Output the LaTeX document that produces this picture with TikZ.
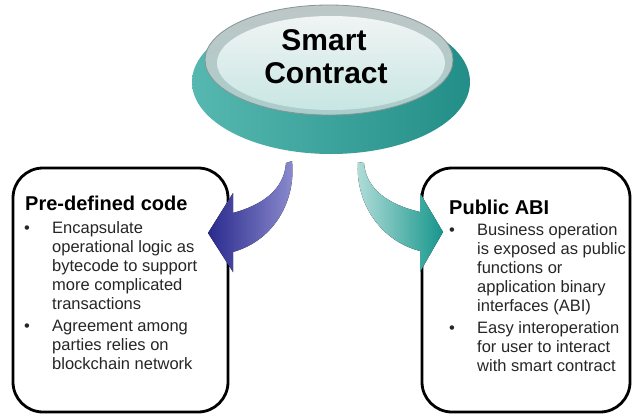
\documentclass[tikz,border=0pt]{standalone}
\usepackage{fontspec}
\setmainfont{Liberation Sans}
\usetikzlibrary{shapes.geometric}
\definecolor{txtgray}{RGB}{38,38,38}
\definecolor{tealL}{RGB}{86,184,176}
\definecolor{tealR}{RGB}{34,142,135}
\definecolor{rimT}{RGB}{190,198,198}
\definecolor{rimB}{RGB}{170,206,204}
\definecolor{rimD}{RGB}{135,148,148}
\definecolor{discT}{RGB}{240,244,244}
\definecolor{discB}{RGB}{200,230,227}
\definecolor{blueD}{RGB}{42,42,142}
\definecolor{blueL}{RGB}{142,142,208}
\definecolor{cyanL}{RGB}{180,222,218}
\definecolor{cyanD}{RGB}{22,150,140}
\begin{document}
\begin{tikzpicture}[x=1pt,y=-1pt,
  bodytxt/.style={anchor=base west, inner sep=0pt, font=\fontsize{16.5}{19}\selectfont, text=txtgray},
  titletxt/.style={anchor=base west, inner sep=0pt, font=\fontsize{20}{24}\selectfont\bfseries, text=black},
  bul/.style={anchor=base, inner sep=0pt, font=\fontsize{16.5}{19}\selectfont, text=txtgray},
  cbox/.style={draw=black, line width=2.8pt, rounded corners=30pt, anchor=north west,
               inner sep=0pt, outer sep=0pt, fill=white},
  disctxt/.style={anchor=base, inner sep=0pt, font=\fontsize{30}{33}\selectfont\bfseries, text=black}]
\useasboundingbox (0,0) rectangle (633,416);
% disc
\node[ellipse, minimum width=278pt, minimum height=144pt, inner sep=0pt, outer sep=0pt,
      left color=tealL, right color=tealR] (base) at (331,82) {};
\node[ellipse, minimum width=248pt, minimum height=110pt, inner sep=0pt, outer sep=0pt,
      draw=rimD, line width=0.8pt, top color=rimT, bottom color=rimB] (disc) at (329,60) {};
\node[ellipse, minimum width=228pt, minimum height=94pt, inner sep=0pt, outer sep=0pt,
      top color=discT, bottom color=discB] (discin) at (331,63) {};
\node[disctxt] (sc1) at (324,50) {Smart};
\node[disctxt] (sc2) at (326,83) {Contract};
% boxes
\node[cbox, minimum width=215pt, minimum height=244pt] (lbox) at (13,168) {};
\node[cbox, minimum width=208pt, minimum height=244pt] (rbox) at (422,168) {};
% left text
\node[titletxt] (lt) at (25,210) {Pre-defined code};
\node[bul] (lb1) at (27,233) {\textbullet};
\node[bodytxt] (l1) at (52,233) {Encapsulate};
\node[bodytxt] (l2) at (52,252) {operational logic as};
\node[bodytxt] (l3) at (52,271) {bytecode to support};
\node[bodytxt] (l4) at (52,290) {more complicated};
\node[bodytxt] (l5) at (52,309) {transactions};
\node[bul] (lb2) at (27,331) {\textbullet};
\node[bodytxt] (l6) at (52,331) {Agreement among};
\node[bodytxt] (l7) at (52,350) {parties relies on};
\node[bodytxt] (l8) at (52,369) {blockchain network};
% right text
\node[titletxt] (rt) at (449,214) {Public ABI};
\node[bul] (rb1) at (452,235) {\textbullet};
\node[bodytxt] (r1) at (477,235) {Business operation};
\node[bodytxt] (r2) at (477,254) {is exposed as public};
\node[bodytxt] (r3) at (477,273) {functions or};
\node[bodytxt] (r4) at (477,292) {application binary};
\node[bodytxt] (r5) at (477,311) {interfaces (ABI)};
\node[bul] (rb2) at (452,333) {\textbullet};
\node[bodytxt] (r6) at (477,333) {Easy interoperation};
\node[bodytxt] (r7) at (477,352) {for user to interact};
\node[bodytxt] (r8) at (477,371) {with smart contract};
% arrows
\coordinate (la0) at (286,163);
\coordinate (la1) at (233,213);
\coordinate (la2) at (233,193);
\coordinate (latip) at (208,233);
\coordinate (la3) at (233,272);
\coordinate (la4) at (233,252);
\coordinate (la5) at (292,161);
\fill[left color=blueD, right color=blueL]
  (la0) .. controls (284,190) and (262,205) .. (la1) -- (la2) -- (latip) -- (la3) -- (la4)
  .. controls (275,240) and (296,200) .. (la5) -- cycle;
\coordinate (ra0) at (364,163);
\coordinate (ra1) at (420,212);
\coordinate (ra2) at (420,193);
\coordinate (ratip) at (443,232);
\coordinate (ra3) at (420,272);
\coordinate (ra4) at (420,251);
\coordinate (ra5) at (358,162);
\fill[left color=cyanL, right color=cyanD]
  (ra0) .. controls (366,190) and (390,205) .. (ra1) -- (ra2) -- (ratip) -- (ra3) -- (ra4)
  .. controls (378,240) and (355,200) .. (ra5) -- cycle;
\end{tikzpicture}
\end{document}
